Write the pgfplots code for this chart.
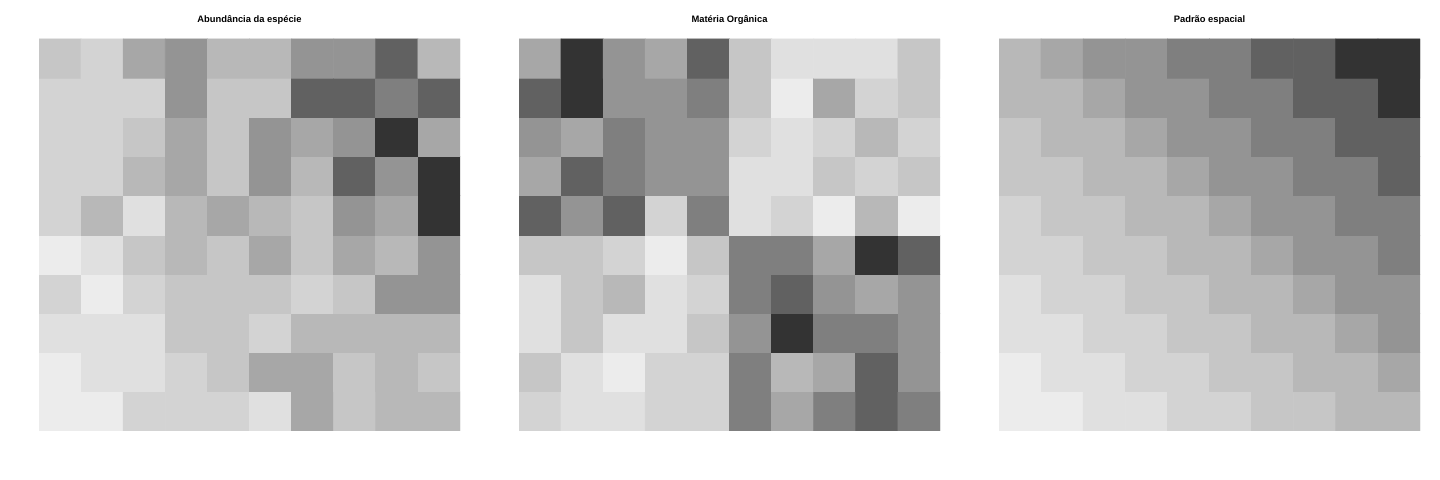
\documentclass[border=0pt]{standalone}
\usepackage{pgfplots}
\pgfplotsset{compat=1.18}
\usepackage{fontspec}
\setmainfont{Liberation Sans}

\pgfplotsset{
  grid map/.style={
    scale only axis, width=210.5bp, height=196bp,
    anchor=south west, hide axis,
    xmin=0.5, xmax=10.5, ymin=0.5, ymax=10.5, enlargelimits=false,
    colormap={grays}{rgb255=(236,236,236) rgb255=(224,224,224) rgb255=(211,211,211)
      rgb255=(198,198,198) rgb255=(184,184,184) rgb255=(167,167,167)
      rgb255=(148,148,148) rgb255=(127,127,127) rgb255=(97,97,97) rgb255=(51,51,51)},
    point meta min=1, point meta max=10,
    % default title already has yshift=6pt
    title style={at={(0.5,1)}, anchor=base, yshift=2.5bp,
      font=\fontsize{4.7}{5.5}\selectfont\bfseries},
  },
}

\begin{document}
\begin{tikzpicture}
\path[use as bounding box] (0,0) rectangle (720bp,240bp);

% Abundancia da especie
\begin{axis}[grid map, at={(19.5bp,24.5bp)}, title={Abundância da espécie}]
\addplot[matrix plot*, mesh/cols=10, point meta=explicit] coordinates {
(1,1)[1] (2,1)[1] (3,1)[3] (4,1)[3] (5,1)[3] (6,1)[2] (7,1)[6] (8,1)[4] (9,1)[5] (10,1)[5]
(1,2)[1] (2,2)[2] (3,2)[2] (4,2)[3] (5,2)[4] (6,2)[6] (7,2)[6] (8,2)[4] (9,2)[5] (10,2)[4]
(1,3)[2] (2,3)[2] (3,3)[2] (4,3)[4] (5,3)[4] (6,3)[3] (7,3)[5] (8,3)[5] (9,3)[5] (10,3)[5]
(1,4)[3] (2,4)[1] (3,4)[3] (4,4)[4] (5,4)[4] (6,4)[4] (7,4)[3] (8,4)[4] (9,4)[7] (10,4)[7]
(1,5)[1] (2,5)[2] (3,5)[4] (4,5)[5] (5,5)[4] (6,5)[6] (7,5)[4] (8,5)[6] (9,5)[5] (10,5)[7]
(1,6)[3] (2,6)[5] (3,6)[2] (4,6)[5] (5,6)[6] (6,6)[5] (7,6)[4] (8,6)[7] (9,6)[6] (10,6)[10]
(1,7)[3] (2,7)[3] (3,7)[5] (4,7)[6] (5,7)[4] (6,7)[7] (7,7)[5] (8,7)[9] (9,7)[7] (10,7)[10]
(1,8)[3] (2,8)[3] (3,8)[4] (4,8)[6] (5,8)[4] (6,8)[7] (7,8)[6] (8,8)[7] (9,8)[10] (10,8)[6]
(1,9)[3] (2,9)[3] (3,9)[3] (4,9)[7] (5,9)[4] (6,9)[4] (7,9)[9] (8,9)[9] (9,9)[8] (10,9)[9]
(1,10)[4] (2,10)[3] (3,10)[6] (4,10)[7] (5,10)[5] (6,10)[5] (7,10)[7] (8,10)[7] (9,10)[9] (10,10)[5]
};
\end{axis}

% Materia organica
\begin{axis}[grid map, at={(259.5bp,24.5bp)}, title={Matéria Orgânica}]
\addplot[matrix plot*, mesh/cols=10, point meta=explicit] coordinates {
(1,1)[3] (2,1)[2] (3,1)[2] (4,1)[3] (5,1)[3] (6,1)[8] (7,1)[6] (8,1)[8] (9,1)[9] (10,1)[8]
(1,2)[4] (2,2)[2] (3,2)[1] (4,2)[3] (5,2)[3] (6,2)[8] (7,2)[5] (8,2)[6] (9,2)[9] (10,2)[7]
(1,3)[2] (2,3)[4] (3,3)[2] (4,3)[2] (5,3)[4] (6,3)[7] (7,3)[10] (8,3)[8] (9,3)[8] (10,3)[7]
(1,4)[2] (2,4)[4] (3,4)[5] (4,4)[2] (5,4)[3] (6,4)[8] (7,4)[9] (8,4)[7] (9,4)[6] (10,4)[7]
(1,5)[4] (2,5)[4] (3,5)[3] (4,5)[1] (5,5)[4] (6,5)[8] (7,5)[8] (8,5)[6] (9,5)[10] (10,5)[9]
(1,6)[9] (2,6)[7] (3,6)[9] (4,6)[3] (5,6)[8] (6,6)[2] (7,6)[3] (8,6)[1] (9,6)[5] (10,6)[1]
(1,7)[6] (2,7)[9] (3,7)[8] (4,7)[7] (5,7)[7] (6,7)[2] (7,7)[2] (8,7)[4] (9,7)[3] (10,7)[4]
(1,8)[7] (2,8)[6] (3,8)[8] (4,8)[7] (5,8)[7] (6,8)[3] (7,8)[2] (8,8)[3] (9,8)[5] (10,8)[3]
(1,9)[9] (2,9)[10] (3,9)[7] (4,9)[7] (5,9)[8] (6,9)[4] (7,9)[1] (8,9)[6] (9,9)[3] (10,9)[4]
(1,10)[6] (2,10)[10] (3,10)[7] (4,10)[6] (5,10)[9] (6,10)[4] (7,10)[2] (8,10)[2] (9,10)[2] (10,10)[4]
};
\end{axis}

% Padrao espacial
\begin{axis}[grid map, at={(499.5bp,24.5bp)}, title={Padrão espacial}]
\addplot[matrix plot*, mesh/cols=10, point meta=explicit] coordinates {
(1,1)[1] (2,1)[1] (3,1)[2] (4,1)[2] (5,1)[3] (6,1)[3] (7,1)[4] (8,1)[4] (9,1)[5] (10,1)[5]
(1,2)[1] (2,2)[2] (3,2)[2] (4,2)[3] (5,2)[3] (6,2)[4] (7,2)[4] (8,2)[5] (9,2)[5] (10,2)[6]
(1,3)[2] (2,3)[2] (3,3)[3] (4,3)[3] (5,3)[4] (6,3)[4] (7,3)[5] (8,3)[5] (9,3)[6] (10,3)[7]
(1,4)[2] (2,4)[3] (3,4)[3] (4,4)[4] (5,4)[4] (6,4)[5] (7,4)[5] (8,4)[6] (9,4)[7] (10,4)[7]
(1,5)[3] (2,5)[3] (3,5)[4] (4,5)[4] (5,5)[5] (6,5)[5] (7,5)[6] (8,5)[7] (9,5)[7] (10,5)[8]
(1,6)[3] (2,6)[4] (3,6)[4] (4,6)[5] (5,6)[5] (6,6)[6] (7,6)[7] (8,6)[7] (9,6)[8] (10,6)[8]
(1,7)[4] (2,7)[4] (3,7)[5] (4,7)[5] (5,7)[6] (6,7)[7] (7,7)[7] (8,7)[8] (9,7)[8] (10,7)[9]
(1,8)[4] (2,8)[5] (3,8)[5] (4,8)[6] (5,8)[7] (6,8)[7] (7,8)[8] (8,8)[8] (9,8)[9] (10,8)[9]
(1,9)[5] (2,9)[5] (3,9)[6] (4,9)[7] (5,9)[7] (6,9)[8] (7,9)[8] (8,9)[9] (9,9)[9] (10,9)[10]
(1,10)[5] (2,10)[6] (3,10)[7] (4,10)[7] (5,10)[8] (6,10)[8] (7,10)[9] (8,10)[9] (9,10)[10] (10,10)[10]
};
\end{axis}
\end{tikzpicture}
\end{document}
